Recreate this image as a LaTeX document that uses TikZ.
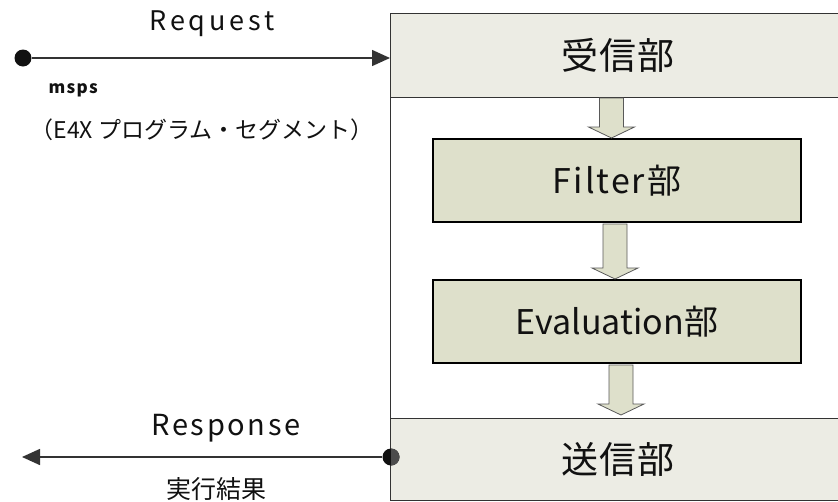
\documentclass[tikz,border=0pt]{standalone}
\usepackage{fontspec}
\setmainfont{Noto Sans CJK JP}
\usetikzlibrary{arrows.meta,calc}
\definecolor{panel}{HTML}{ECECE4}
\definecolor{stage}{HTML}{DEE0CB}
\definecolor{edge}{HTML}{333333}
\definecolor{ink}{HTML}{111111}
\tikzset{
  panelbox/.style={draw=edge, line width=1pt, fill=panel, anchor=north west, inner sep=0pt},
  stagebox/.style={draw=black, line width=2pt, fill=stage, anchor=north west, inner sep=0pt,
                   minimum width=368pt, minimum height=83pt},
  blk/.style={draw=gray!70!black, line width=0.8pt, fill=stage},
  flow/.style={draw=edge, line width=1.5pt, -{Triangle[length=18pt,width=16pt]}},
  paneltxt/.style={text=ink, font=\fontsize{37}{42}\selectfont\addfontfeature{LetterSpace=4}},
  stagetxt/.style={text=ink, font=\fontsize{34}{40}\selectfont},
  lbl/.style={text=ink, font=\fontsize{27}{32}\selectfont\addfontfeature{LetterSpace=14}},
}
\begin{document}
\begin{tikzpicture}[x=1pt,y=-1pt]
\useasboundingbox (0,0) rectangle (838,501);
\clip (0,0) rectangle (838,501);
% panels
\node[panelbox, minimum width=452pt, minimum height=84pt] (recv) at (390,13) {};
\node[panelbox, minimum width=452pt, minimum height=82pt] (send) at (390,418) {};
\draw[edge, line width=1pt] (recv.south west) -- (send.north west);
\node[paneltxt] (recvt) at (618,55) {受信部};
\node[paneltxt] (sendt) at (618,459) {送信部};
% stages
\node[stagebox] (filt) at (432,138) {};
\node[stagetxt, font=\fontsize{34}{40}\selectfont\addfontfeature{LetterSpace=6}] (filtt) at (filt.center) {Filter部};
\node[stagebox] (eval) at (432,279) {};
\node[stagetxt] (evalt) at (eval.center) {Evaluation部};
% block arrows
\draw[blk] let \p1=($(recv.south)+(-5,0)$), \p2=($(filt.north)+(-5,0)$) in
  (\x1-12pt,\y1) -- (\x1+12pt,\y1) -- (\x1+12pt,\y2+11pt) -- (\x1+23pt,\y2+11pt) --
  (\x1,\y2) -- (\x1-23pt,\y2+11pt) -- (\x1-12pt,\y2+11pt) -- cycle;
\draw[blk] let \p1=($(filt.south)+(-2,1)$), \p2=($(eval.north)+(-2,0)$) in
  (\x1-12pt,\y1) -- (\x1+12pt,\y1) -- (\x1+12pt,\y2+11pt) -- (\x1+23pt,\y2+11pt) --
  (\x1,\y2) -- (\x1-23pt,\y2+11pt) -- (\x1-12pt,\y2+11pt) -- cycle;
\draw[blk] let \p1=($(eval.south)+(4,1)$), \p2=($(send.north)+(4,-3)$) in
  (\x1-12pt,\y1) -- (\x1+12pt,\y1) -- (\x1+12pt,\y2+11pt) -- (\x1+23pt,\y2+11pt) --
  (\x1,\y2) -- (\x1-23pt,\y2+11pt) -- (\x1-12pt,\y2+11pt) -- cycle;
% request
\node[circle, fill=ink, minimum size=17pt, inner sep=0pt] (src) at (23,58) {};
\coordinate (reqend) at (src -| recv.west);
\draw[flow] (src) -- (reqend);
\node[lbl] (reqt) at (212,24) {Request};
\node[text=ink, font=\fontsize{17}{20}\selectfont\bfseries\addfontfeature{LetterSpace=8}, anchor=west] (msps) at (45,90) {msps};
\node[text=ink, font=\fontsize{23}{27}\selectfont] (e4x) at (202,130) {（E4X プログラム・セグメント）};
% response
\coordinate (resend) at (22,457);
\node[circle, fill=ink, minimum size=17pt, inner sep=0pt] (out) at (391,457) {};
\draw[flow] (out) -- (resend);
\fill[gray!60!black] let \p1=(out) in (\x1,\y1-8.5pt) arc[start angle=-90, end angle=90, radius=8.5pt] -- cycle;
\node[lbl, font=\fontsize{29}{34}\selectfont\addfontfeature{LetterSpace=9}] (rest) at (226,428) {Response};
\node[text=ink, font=\fontsize{25}{30}\selectfont] (jk) at (216,489) {実行結果};
\end{tikzpicture}
\end{document}
